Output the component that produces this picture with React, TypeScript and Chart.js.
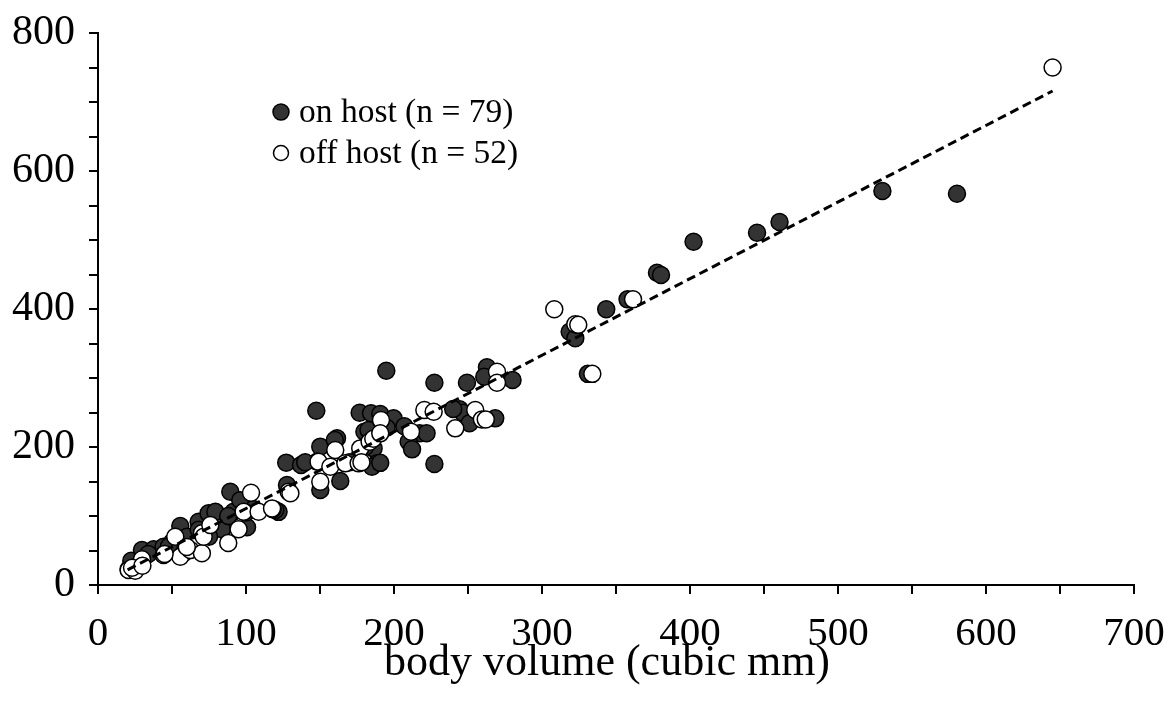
import React, { useEffect, useRef } from "react";
import { Chart, registerables } from "chart.js";

Chart.register(...registerables);

// on host (filled)
const onHostX = [20.7, 22.5, 29.7, 37.6, 44.3, 55.6, 60.1, 68, 74.7, 50, 79.3, 83.8, 89.4, 91.6, 96.1, 100.7, 122, 119.8, 127.2, 137.2, 127.7, 150.2, 150.2, 147.5, 148, 161.5, 163.7, 176.8, 184.5, 190.7, 199.7, 180, 186.2, 180.6, 182.8, 188.5, 185.1, 190.7, 194.8, 207, 217.3, 209.9, 212.2, 227.3, 227.3, 244.3, 246.6, 251, 249.3, 262.8, 261, 268.4, 280.1, 318.7, 322.5, 331, 343.4, 357.8, 377.7, 380.4, 402.4, 445.3, 460.5, 530, 580.4, 68, 75, 88, 105, 140, 170, 222, 34, 48, 100, 118, 195, 160, 240];
const onHostY = [22.7, 35.2, 50.7, 51.7, 55.5, 85.5, 70, 91.7, 104, 62, 106, 80.7, 135.2, 106.2, 123, 83.6, 106, 108.7, 177.3, 174, 145, 137.7, 200.5, 252.6, 178.7, 212.6, 150.7, 249.7, 248.8, 247.8, 241.5, 222, 198, 200.5, 224.6, 176.3, 171.4, 177, 310.6, 230, 219.8, 207.7, 196.6, 175.4, 293.2, 254.6, 249.7, 234.3, 293.2, 315.5, 301.9, 241.5, 297, 367, 357.5, 306, 399.6, 414, 452.6, 449.3, 497.5, 510.6, 526, 571, 567, 80, 70, 100, 110, 178, 178, 220, 45, 56, 105, 110, 228, 210, 255];

// off host (open)
const offHostX = [20.7, 25.2, 29.7, 44.3, 52.2, 57.8, 55.6, 65.7, 62.4, 70.2, 70.2, 71.4, 75.9, 88, 95, 98.4, 103.4, 108.5, 117.6, 128.8, 130, 150.2, 149, 157, 160.3, 167.1, 176.1, 177.2, 183.5, 186, 191.2, 190.7, 211.5, 220.5, 226.8, 241.4, 254.9, 259.4, 262, 269.6, 269.6, 308.3, 322.5, 324.5, 334, 361.5, 645, 23, 30, 45, 60, 178];
const offHostY = [21.7, 20.7, 37.2, 43.5, 70, 46, 41, 55.5, 50.7, 75, 46, 70, 87, 61, 80.7, 106.2, 133.8, 106.2, 111, 135.2, 133, 149.7, 178.7, 171.4, 195.6, 176.3, 176.3, 198, 207.7, 212, 239, 219.8, 222, 253.6, 251.2, 227, 253.6, 240, 240, 309, 293.2, 399.6, 378, 377, 306, 414, 750, 25, 28, 45, 55, 178];

// regression line
const trendX = [20, 645];
const trendY = [22, 716];

const legendLabels = ["on host (n = 79)", "off host (n = 52)"];
const xTitle = "body volume (cubic mm)";

const FONT = "'Liberation Serif', 'Times New Roman', serif";

const toPts = (xs: number[], ys: number[]) => xs.map((x, i) => ({ x, y: ys[i] }));

const legendPlugin = {
  id: "customLegend",
  afterDraw(chart: any) {
    const ctx = chart.ctx;
    ctx.save();
    const mx = 281;
    const tx = 299;
    const rows = [
      { y: 112, fill: "#333333", r: 8 },
      { y: 153, fill: "#ffffff", r: 7.5 },
    ];
    ctx.font = `33.5px ${FONT}`;
    ctx.textBaseline = "middle";
    ctx.textAlign = "left";
    rows.forEach((row, i) => {
      ctx.beginPath();
      ctx.arc(mx, row.y, row.r, 0, Math.PI * 2);
      ctx.fillStyle = row.fill;
      ctx.fill();
      ctx.lineWidth = 1.5;
      ctx.strokeStyle = "#000";
      ctx.stroke();
      ctx.fillStyle = "#000";
      ctx.fillText(legendLabels[i], tx, row.y + 1);
    });
    // x-axis title
    ctx.font = `44px ${FONT}`;
    ctx.textAlign = "center";
    ctx.textBaseline = "middle";
    ctx.fillStyle = "#000";
    ctx.fillText(xTitle, 607, 663);
    ctx.restore();
  },
};

export default function App() {
  const ref = useRef<HTMLCanvasElement>(null);
  useEffect(() => {
    document.body.style.margin = "0";
    const chart = new Chart(ref.current!, {
      type: "scatter",
      data: {
        datasets: [
          {
            type: "line",
            data: toPts(trendX, trendY),
            borderColor: "#000",
            borderWidth: 3,
            borderDash: [9, 5],
            pointRadius: 0,
            fill: false,
            order: 0,
          } as any,
          {
            data: toPts(offHostX, offHostY),
            backgroundColor: "#ffffff",
            borderColor: "#000",
            borderWidth: 1.5,
            pointRadius: 8.5,
            order: 1,
          },
          {
            data: toPts(onHostX, onHostY),
            backgroundColor: "#333333",
            borderColor: "#000",
            borderWidth: 1.5,
            pointRadius: 8.5,
            order: 2,
          },
        ],
      },
      options: {
        animation: false,
        responsive: false,
        layout: { padding: { top: 33, right: 37, left: 0, bottom: 0 } },
        plugins: { legend: { display: false }, tooltip: { enabled: false } },
        scales: {
          x: {
            type: "linear",
            min: 0,
            max: 700,
            afterFit: (s: any) => {
              s.height = 131;
              s.paddingLeft = 0;
              s.paddingRight = 0;
            },
            ticks: {
              stepSize: 50,
              autoSkip: false,
              maxRotation: 0,
              color: "#000",
              padding: 16,
              font: { family: FONT, size: 41 },
              callback: (v: any) => (Number(v) % 100 === 0 ? String(v) : ""),
            },
            grid: { drawOnChartArea: false, drawTicks: true, tickLength: 9, color: "#000", lineWidth: 2 },
            border: { display: true, color: "#000", width: 2 },
            title: { display: false },
          },
          y: {
            type: "linear",
            min: 0,
            max: 800,
            afterFit: (s: any) => {
              s.width = 98;
              s.paddingTop = 0;
              s.paddingBottom = 0;
            },
            ticks: {
              stepSize: 50,
              autoSkip: false,
              color: "#000",
              padding: 14,
              font: { family: FONT, size: 42 },
              callback: (v: any) => (Number(v) % 200 === 0 ? String(v) : ""),
            },
            grid: { drawOnChartArea: false, drawTicks: true, tickLength: 9, color: "#000", lineWidth: 2 },
            border: { display: true, color: "#000", width: 2 },
          },
        },
      },
      plugins: [legendPlugin],
    } as any);
    return () => chart.destroy();
  }, []);
  return (
    <div style={{ position: "fixed", left: 0, top: 0, width: 1171, height: 716, background: "#fff" }}>
      <canvas ref={ref} width={1171} height={716} />
    </div>
  );
}
